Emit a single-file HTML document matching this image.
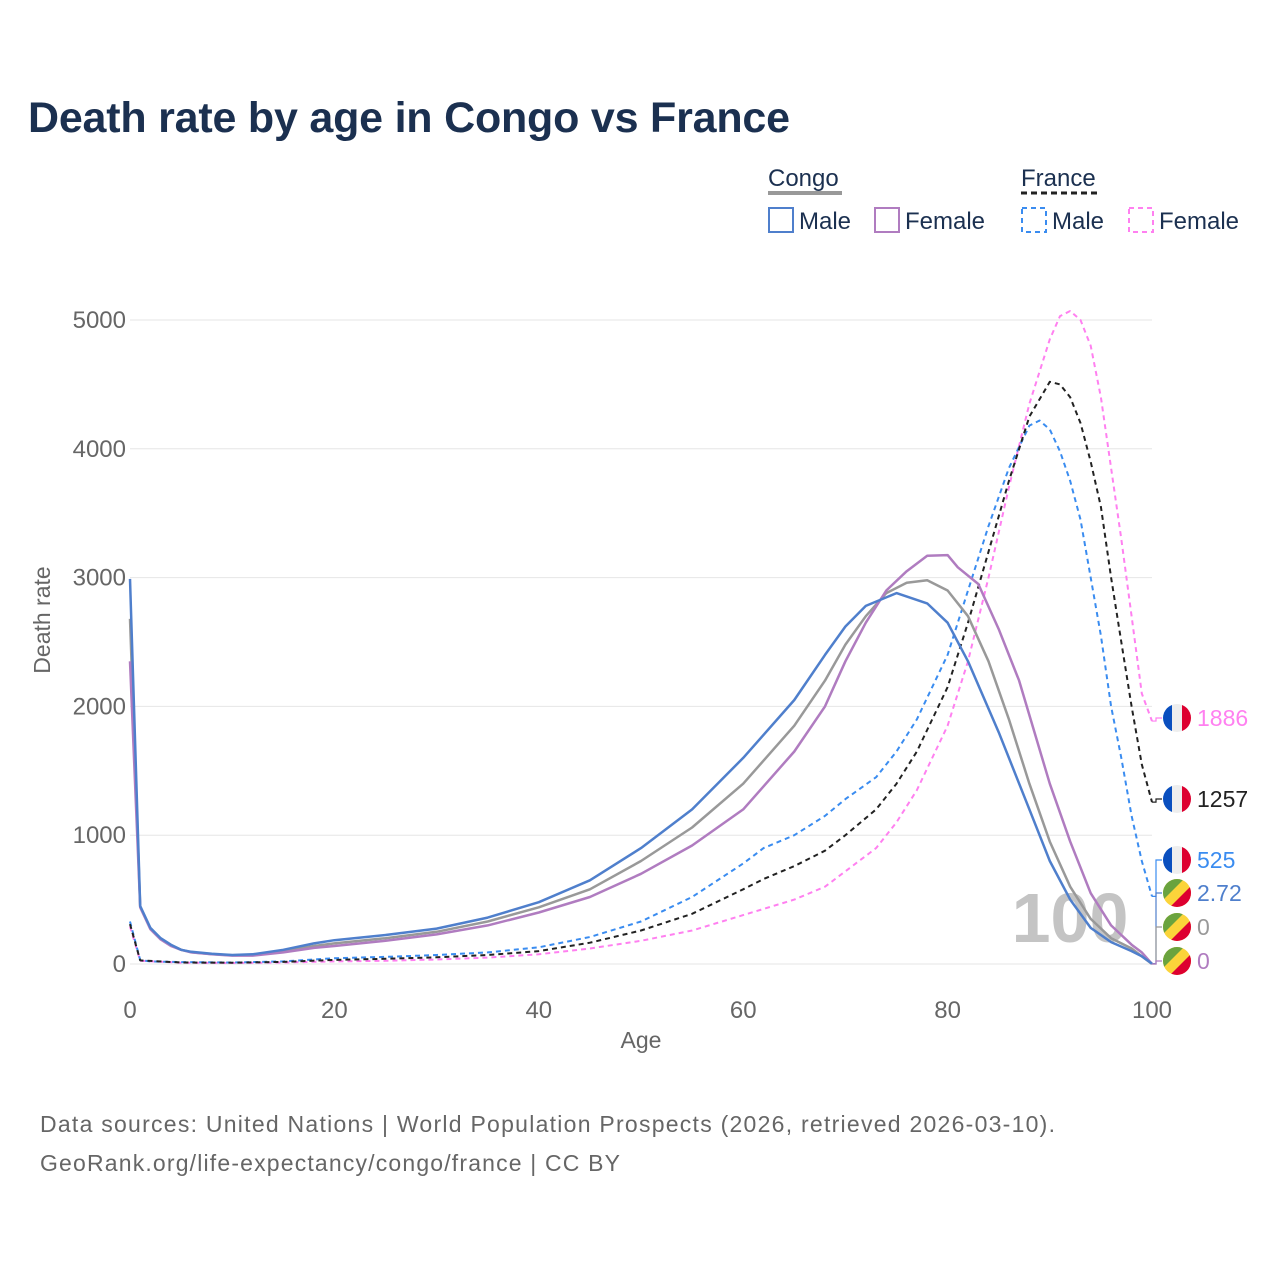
<!DOCTYPE html>
<html><head><meta charset="utf-8"><style>
html,body{margin:0;padding:0;background:#fff;}
svg{display:block;font-family:"Liberation Sans",sans-serif;}
</style></head><body>
<svg id="chart" width="1280" height="1280" viewBox="0 0 1280 1280">
<text x="28" y="132" font-size="43" font-weight="bold" fill="#1b3050" textLength="762">Death rate by age in Congo vs France</text>
<g font-size="24" fill="#1b3050">
<text x="768" y="186">Congo</text>
<line x1="768" x2="842" y1="193" y2="193" stroke="#999" stroke-width="4"/>
<rect x="769" y="208" width="24" height="24" fill="none" stroke="#4f7fcc" stroke-width="2"/>
<text x="799" y="229">Male</text>
<rect x="875" y="208" width="24" height="24" fill="none" stroke="#b07cc0" stroke-width="2"/>
<text x="905" y="229">Female</text>
<text x="1021" y="186">France</text>
<line x1="1021" x2="1098" y1="193" y2="193" stroke="#222" stroke-width="3" stroke-dasharray="6,4"/>
<rect x="1022" y="208" width="24" height="24" fill="none" stroke="#3a8cf0" stroke-width="2" stroke-dasharray="5,4"/>
<text x="1052" y="229">Male</text>
<rect x="1129" y="208" width="24" height="24" fill="none" stroke="#ff80f0" stroke-width="2" stroke-dasharray="5,4"/>
<text x="1159" y="229">Female</text>
</g>
<g id="grid"></g>
<text x="1070" y="942" font-size="70" font-weight="bold" fill="#c4c4c4" text-anchor="middle">100</text>
<g id="series"></g>
<g id="endlabels"></g>
<text transform="translate(50,620) rotate(-90)" font-size="23" fill="#666" text-anchor="middle">Death rate</text>
<text x="641" y="1048" font-size="23" fill="#666" text-anchor="middle">Age</text>
<text x="40" y="1132" font-size="23" fill="#666" textLength="1015">Data sources: United Nations | World Population Prospects (2026, retrieved 2026-03-10).</text>
<text x="40" y="1171" font-size="23" fill="#666" textLength="580">GeoRank.org/life-expectancy/congo/france | CC BY</text>
</svg>
<script>
const yTicks=[0,1000,2000,3000,4000,5000];
const xTicks=[0,20,40,60,80,100];
const congoMaleAges=[0,1,2,3,4,5,6,8,10,12,15,18,20,25,30,35,40,45,50,55,60,65,68,70,72,75,78,80,82,85,88,90,92,94,96,98,99,100];
const congoMaleVals=[2990,450,280,200,150,110,95,80,70,75,110,160,185,225,275,360,480,650,900,1200,1600,2050,2400,2620,2780,2880,2800,2650,2350,1800,1200,800,500,280,170,100,60,2.72];
const congoFemaleAges=[0,1,2,3,4,5,6,8,10,12,15,18,20,25,30,35,40,45,50,55,60,65,68,70,72,74,76,78,80,81,83,85,87,90,92,94,96,98,99,100];
const congoFemaleVals=[2350,440,270,190,140,110,90,75,65,65,90,125,140,180,230,300,400,520,700,920,1200,1650,2000,2350,2650,2900,3050,3170,3175,3080,2950,2600,2200,1400,950,550,300,150,90,0];
const congoAllAges=[0,1,2,3,4,5,6,8,10,12,15,18,20,25,30,35,40,45,50,55,60,65,68,70,72,74,76,78,80,82,84,86,88,90,92,94,96,98,100];
const congoAllVals=[2680,445,275,195,145,110,92,77,68,70,100,140,160,200,250,330,440,580,800,1060,1400,1850,2200,2480,2700,2880,2960,2980,2900,2700,2350,1900,1400,950,600,350,200,120,0];
const franceMaleAges=[0,1,2,5,10,15,20,25,30,35,40,45,50,55,60,62,65,68,70,73,75,77,80,82,84,86,88,89,90,91,92,93,94,95,96,97,98,99,100];
const franceMaleVals=[330,30,20,15,12,20,45,55,70,90,130,210,330,520,780,900,1000,1150,1280,1450,1650,1900,2400,2900,3400,3850,4180,4220,4150,3980,3750,3450,3000,2550,2000,1600,1150,800,525];
const franceFemaleAges=[0,1,5,10,15,20,25,30,35,40,45,50,55,60,65,68,70,73,75,77,80,82,84,86,88,90,91,92,93,94,95,96,97,98,99,100];
const franceFemaleVals=[290,25,10,8,12,20,25,35,50,75,120,180,260,380,500,600,720,900,1100,1350,1850,2350,3000,3700,4350,4850,5030,5070,5000,4800,4400,3850,3300,2700,2100,1886];
const franceAllAges=[0,1,5,10,15,20,25,30,35,40,45,50,55,60,62,65,68,70,73,75,77,80,82,84,86,88,90,91,92,93,94,95,96,97,98,99,100];
const franceAllVals=[310,28,12,10,16,32,40,52,70,100,165,260,390,580,660,760,880,1000,1200,1400,1650,2150,2650,3200,3750,4250,4520,4500,4400,4200,3900,3550,3000,2500,2000,1550,1257];
const endLabels=["1886","1257","525","2.72","0","0"];

const NS="http://www.w3.org/2000/svg";
const X0=130,X1=1152,Y0=964,Y1=320;
const xs=a=>X0+(X1-X0)*a/100;
const ys=v=>Y0-(Y0-Y1)*v/5000;
function mk(tag,attrs,parent){const e=document.createElementNS(NS,tag);for(const k in attrs)e.setAttribute(k,attrs[k]);parent.appendChild(e);return e;}
const grid=document.getElementById('grid');
yTicks.forEach(t=>{
  const l=mk('line',{x1:X0,x2:X1,y1:ys(t),y2:ys(t),stroke:'#e6e6e6','stroke-width':1},grid);
  
  
  const tx=mk('text',{x:126,y:ys(t)+8,'font-size':24,fill:'#666','text-anchor':'end'},grid);
  tx.textContent=t;
  
  
});
xTicks.forEach(t=>{
  const tx=mk('text',{x:xs(t),y:1018,'font-size':24,fill:'#666','text-anchor':'middle'},grid);
  tx.textContent=t;
  
  
});
const series=document.getElementById('series');
function line(ages,vals,color,dash,w,name){
  const d=ages.map((a,i)=>(i?'L':'M')+xs(a).toFixed(1)+','+ys(vals[i]).toFixed(1)).join('');
  const p=mk('path',{d:d,fill:'none',stroke:color,'stroke-width':w,'stroke-dasharray':dash,'stroke-linejoin':'round'},series);
  
  
}
line(franceFemaleAges,franceFemaleVals,'#ff80f0','5,4',2,'france-female-line');
line(franceMaleAges,franceMaleVals,'#3a8cf0','5,4',2,'france-male-line');
line(franceAllAges,franceAllVals,'#222','5,4',2,'france-total-line');
line(congoAllAges,congoAllVals,'#999','none',2.5,'congo-total-line');
line(congoFemaleAges,congoFemaleVals,'#b07cc0','none',2.5,'congo-female-line');
line(congoMaleAges,congoMaleVals,'#4f7fcc','none',2.5,'congo-male-line');

const el=document.getElementById('endlabels');
const labY=[718,799,860,893,927,961];
const labCol=['#ff80f0','#222','#3a8cf0','#4f7fcc','#999','#b07cc0'];
const labFlag=['fr','fr','fr','cg','cg','cg'];
const labEnd=[franceFemaleVals.at(-1),franceAllVals.at(-1),franceMaleVals.at(-1),congoMaleVals.at(-1),congoAllVals.at(-1),congoFemaleVals.at(-1)];
let defs=mk('defs',{},el);
const cp=mk('clipPath',{id:'circ'},defs);
mk('circle',{cx:0,cy:0,r:14},cp);
labY.forEach((y,i)=>{
  const ey=ys(labEnd[i]);
  const ld=mk('path',{d:`M${X1},${ey}H1156V${y}H1162`,fill:'none',stroke:labCol[i],'stroke-width':1.2},el);
  
  
  const g=mk('g',{transform:`translate(1177,${y})`,'clip-path':'url(#circ)'},el);
  
  
  if(labFlag[i]==='fr'){
    mk('rect',{x:-15,y:-15,width:10,height:30,fill:'#0a4fbf'},g);
    mk('rect',{x:-5,y:-15,width:10,height:30,fill:'#eee'},g);
    mk('rect',{x:5,y:-15,width:10,height:30,fill:'#dd0030'},g);
  } else {
    mk('rect',{x:-15,y:-15,width:30,height:30,fill:'#fbd43a'},g);
    mk('polygon',{points:'-15,-15 8,-15 -15,8',fill:'#6aa33e'},g);
    mk('polygon',{points:'15,15 -8,15 15,-8',fill:'#dd0030'},g);
  }
  const t=mk('text',{x:1197,y:y+8,'font-size':23,fill:labCol[i]},el);
  t.textContent=endLabels[i];
  
  
});
</script>
</body></html>
